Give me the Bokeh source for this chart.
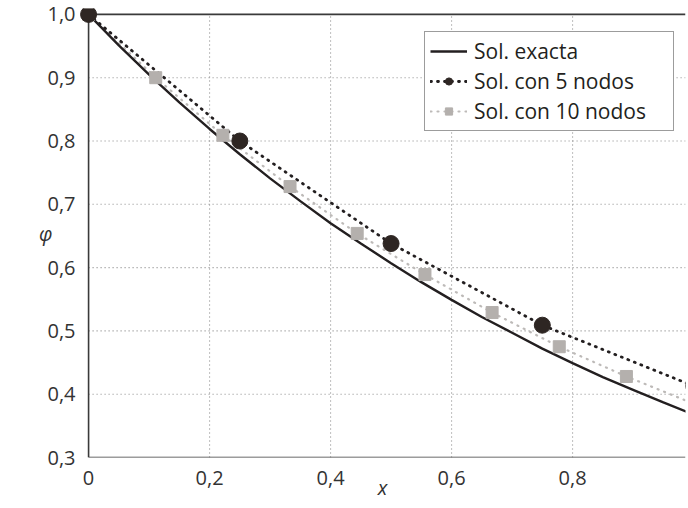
from bokeh.plotting import figure
from bokeh.models import Range1d, FixedTicker, Legend, LegendItem, ColumnDataSource
from bokeh.embed import file_html
from bokeh.resources import INLINE

# --- data ---
x_exact = [0.0, 0.05, 0.10, 0.15, 0.20, 0.25, 0.30, 0.35, 0.40, 0.45, 0.50,
           0.55, 0.60, 0.65, 0.70, 0.75, 0.80, 0.85, 0.90, 0.95, 1.00]
phi_exact = [1.000, 0.951, 0.905, 0.861, 0.819, 0.779, 0.741, 0.705, 0.670, 0.638, 0.607,
             0.577, 0.549, 0.522, 0.497, 0.472, 0.449, 0.427, 0.407, 0.387, 0.368]

x_5 = [0.0, 0.25, 0.50, 0.75, 1.00]
phi_5 = [1.000, 0.800, 0.638, 0.509, 0.413]

x_10 = [0.0, 0.111, 0.222, 0.333, 0.444, 0.556, 0.667, 0.778, 0.889, 1.000]
phi_10 = [1.000, 0.900, 0.809, 0.728, 0.654, 0.589, 0.529, 0.475, 0.428, 0.385]

x_ticks = [0.0, 0.2, 0.4, 0.6, 0.8]
x_tick_labels = ["0", "0,2", "0,4", "0,6", "0,8"]
y_ticks = [0.3, 0.4, 0.5, 0.6, 0.7, 0.8, 0.9, 1.0]
y_tick_labels = ["0,3", "0,4", "0,5", "0,6", "0,7", "0,8", "0,9", "1,0"]

legend_labels = ["Sol. exacta", "Sol. con 5 nodos", "Sol. con 10 nodos"]
x_title = "x"
y_title = "φ"

FONT = "Open Sans"
INK = "#231f20"
TXT = "#333333"
GRAY = "#b4b0ad"
LGRAY = "#bdbab8"

x0, x1 = -0.015, -0.015 + 606 / 605
y0, y1 = 0.3, 0.3 + 449 / 633

p = figure(width=688, height=508, output_backend="svg", toolbar_location=None,
           x_range=Range1d(x0, x1), y_range=Range1d(y0, y1),
           min_border_left=79, min_border_right=3, min_border_top=8, min_border_bottom=51)
p.outline_line_color = None
p.xgrid.visible = False
p.ygrid.visible = False
p.background_fill_color = "white"
p.border_fill_color = "white"

for ax, ticks, labels in ((p.xaxis[0], x_ticks, x_tick_labels), (p.yaxis[0], y_ticks, y_tick_labels)):
    ax.ticker = FixedTicker(ticks=ticks)
    ax.major_label_overrides = {t: l for t, l in zip(ticks, labels)}
    ax.axis_line_color = None
    ax.major_tick_line_color = None
    ax.minor_tick_line_color = None
    ax.major_tick_out = 0
    ax.major_tick_in = 0
    ax.major_label_text_font = FONT
    ax.major_label_text_font_size = "20px"
    ax.major_label_text_color = TXT
    ax.major_label_standoff = 4
    ax.axis_label_text_font = FONT
    ax.axis_label_text_font_size = "20px"
    ax.axis_label_text_font_style = "italic"
    ax.axis_label_text_color = TXT

xax = p.xaxis[0]
xax.axis_label = x_title
xax.major_label_standoff = 13
xax.axis_label_standoff = -14

yax = p.yaxis[0]
yax.axis_label = y_title
if "axis_label_orientation" in yax.properties():
    yax.axis_label_orientation = "horizontal"
yax.axis_label_standoff = -8

# grid (dotted)
gx = [t for t in x_ticks if t > 0]
gy = [t for t in y_ticks if 0.3 < t < 1.0]
p.segment(x0=gx, y0=[y0] * len(gx), x1=gx, y1=[1.0] * len(gx),
          line_color="#8a8a8a", line_width=1.1, line_dash="1 3")
p.segment(x0=[0.0] * len(gy), y0=gy, x1=[x1] * len(gy), y1=gy,
          line_color="#8a8a8a", line_width=1.1, line_dash="1 3")

# frame lines
p.segment(x0=[0.0, 0.0, 0.0], y0=[y0, y0, 1.0], x1=[0.0, x1, x1], y1=[1.0, y0, 1.0],
          line_color="#3a3a3a", line_width=1.6)

# series
p.line(x_10, phi_10, line_color=LGRAY, line_width=2.2, line_dash="1 6", line_cap="round")
p.line(x_5, phi_5, line_color=INK, line_width=2.8, line_dash="1 6", line_cap="round")
p.line(x_exact, phi_exact, line_color=INK, line_width=2.4)
p.scatter(x_10, phi_10, marker="square", size=12, fill_color=GRAY, line_color=GRAY)
p.scatter(x_5, phi_5, marker="circle", size=16, fill_color="#2e2623", line_color="#2e2623")

# legend-only renderers (no visible data)
nan = float("nan")
def src():
    return ColumnDataSource(dict(x=[nan], y=[nan]))
l_ex = p.line(x="x", y="y", source=src(), line_color=INK, line_width=2.4)
l_5 = p.line(x="x", y="y", source=src(), line_color=INK, line_width=2.8,
             line_dash="1 6", line_cap="round")
m_5 = p.scatter(x="x", y="y", source=src(), marker="circle", size=9,
                fill_color="#2e2623", line_color="#2e2623")
l_10 = p.line(x="x", y="y", source=src(), line_color=LGRAY, line_width=2.2,
              line_dash="1 6", line_cap="round")
m_10 = p.scatter(x="x", y="y", source=src(), marker="square", size=8,
                 fill_color=GRAY, line_color=GRAY)

legend = Legend(items=[
    LegendItem(label=legend_labels[0], renderers=[l_ex]),
    LegendItem(label=legend_labels[1], renderers=[l_5, m_5]),
    LegendItem(label=legend_labels[2], renderers=[l_10, m_10]),
], location=(345, 326))
legend.label_text_font = FONT
legend.label_text_font_size = "21px"
legend.label_text_color = INK
legend.padding = 5
legend.margin = 0
legend.spacing = 2
legend.label_height = 18
legend.glyph_height = 18
legend.glyph_width = 37
legend.label_standoff = 7
legend.label_width = 194
legend.border_line_color = "#3a3a3a"
legend.border_line_width = 1.4
legend.background_fill_alpha = 1.0
p.add_layout(legend, "center")

open("out.html", "w").write(file_html(p, INLINE))
